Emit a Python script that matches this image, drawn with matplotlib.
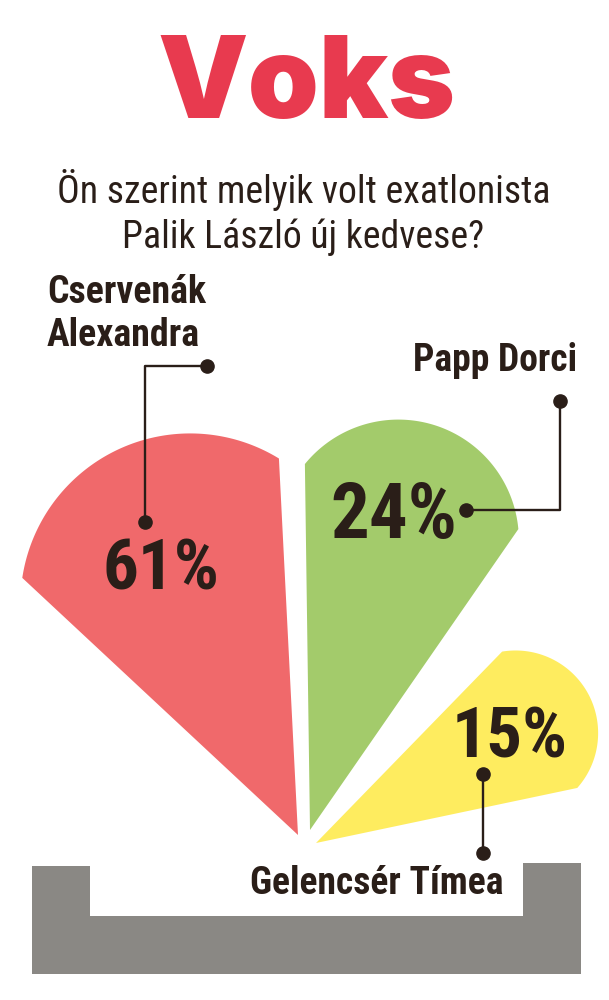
import matplotlib
matplotlib.use("Agg")
import matplotlib.pyplot as plt
from matplotlib.patches import Polygon
from matplotlib import font_manager
import numpy as np

# ---- content -------------------------------------------------------------
title = "Voks"
question_lines = ["Ön szerint melyik volt exatlonista", "Palik László új kedvese?"]
names = ["Cservenák\nAlexandra", "Papp Dorci", "Gelencsér Tímea"]
shares = [61, 24, 15]
colors = ["#F0696B", "#A3CB6B", "#FEEC5F"]

INK = "#2A1E18"
TITLE_RED = "#E83A4F"
GREY = "#8A8884"

# ---- layout (pixel units, y grows downwards) -----------------------------
# petal: apex, edge directions in degrees (counter-clockwise, y up), edge length, cap bulge
petals = [
    dict(apex=(298, 835), angles=(92.9, 137.0), reach=377, bulge=76),
    dict(apex=(310, 830), angles=(55.3, 90.8), reach=366, bulge=75),
    dict(apex=(316, 843), angles=(11.9, 45.8), reach=267, bulge=55),
]
# percentage labels: centre x, baseline y, width
pct_boxes = [(161.5, 590, 117), (393.5, 538, 127), (510, 757, 116)]
# name labels: anchor x, baseline ys, alignment, width of widest line
name_boxes = [(47, [303, 346], "left", 158), (577, [371], "right", 164), (503, [894], "right", 253)]
# leader lines: polyline through these points, dots at both ends
leaders = [
    [(207, 366), (145, 366), (145, 522)],
    [(560, 401), (560, 510), (466, 510)],
    [(483, 774), (483, 853)],
]
# grey tray under the chart
tray = [(32, 866), (90, 866), (90, 916), (523, 916), (523, 863), (581, 863), (581, 974), (32, 974)]


# ---- fonts ---------------------------------------------------------------
NARROW = {"condensed", "semi-condensed", "extra-condensed", "ultra-condensed"}


def weight_num(w):
    if isinstance(w, (int, float)):
        return w
    return font_manager.weight_dict.get(w, 400)


def choose(prefs, wmin, wmax, narrow):
    best = None
    for f in font_manager.fontManager.ttflist:
        if f.style != "normal":
            continue
        w = weight_num(f.weight)
        if not (wmin <= w <= wmax):
            continue
        is_narrow = (str(f.stretch) in NARROW or "Narrow" in f.name
                     or "Condensed" in f.name or "ondensed" in f.fname or "Narrow" in f.fname)
        if narrow and not is_narrow:
            continue
        rank = prefs.index(f.name) if f.name in prefs else len(prefs)
        key = (rank, -w)
        if best is None or key < best[0]:
            best = (key, f)
    return best[1] if best else None


def props(entry, fallback_weight):
    if entry is None:
        return font_manager.FontProperties(family="DejaVu Sans", weight=fallback_weight)
    return font_manager.FontProperties(fname=entry.fname)


narrow_prefs = ["Roboto Condensed", "Liberation Sans Narrow", "Noto Sans", "Open Sans",
                "DejaVu Sans", "Noto Sans Condensed", "Open Sans Condensed"]
bold_entry = choose(narrow_prefs, 600, 720, True)
black_entry = choose(narrow_prefs, 700, 950, True)
reg_entry = choose(narrow_prefs, 380, 420, True) or choose(narrow_prefs, 300, 500, True)
heavy_entry = choose(["Inter", "Open Sans", "Noto Sans", "Roboto", "Lato"], 800, 1000, False)

fp_bold = props(bold_entry, "bold")
fp_black = props(black_entry, "bold")
fp_reg = props(reg_entry, "normal")
fp_heavy = props(heavy_entry, "bold")

# ---- figure --------------------------------------------------------------
fig = plt.figure(figsize=(6.09, 10.0), dpi=100)
ax = fig.add_axes([0, 0, 1, 1])
ax.set_xlim(0, 609)
ax.set_ylim(1000, 0)
ax.axis("off")
renderer = fig.canvas.get_renderer()


def fitted(x, y, s, width, fp, ha, color, size=None):
    t = ax.text(x, y, s, fontproperties=fp, ha=ha, va="baseline", color=color, fontsize=20)
    if size is None:
        w = t.get_window_extent(renderer).width
        size = 20 * width / w
    t.set_fontsize(size)
    return size


def petal_vertices(apex, angles, reach, bulge, n=120):
    apex = np.asarray(apex, float)

    def edge_end(deg):
        a = np.radians(deg)
        return apex + reach * np.array([np.cos(a), -np.sin(a)])

    A, B = edge_end(angles[0]), edge_end(angles[1])
    mid = (A + B) / 2
    d = B - A
    half = np.linalg.norm(d) / 2
    nrm = np.array([-d[1], d[0]]) / np.linalg.norm(d)
    if np.dot(nrm, mid - apex) < 0:
        nrm = -nrm
    R = (half ** 2 + bulge ** 2) / (2 * bulge)
    c = mid + nrm * (bulge - R)
    ap = np.arctan2(nrm[1], nrm[0])

    def around(v):
        a = np.arctan2(v[1], v[0])
        return ap + (a - ap + np.pi) % (2 * np.pi) - np.pi

    ts = np.linspace(around(A - c), around(B - c), n)
    arc = c + R * np.column_stack([np.cos(ts), np.sin(ts)])
    return np.vstack([apex, arc])


# petals
for geo, col in zip(petals, colors):
    ax.add_patch(Polygon(petal_vertices(**geo), closed=True, facecolor=col,
                         edgecolor="none", zorder=2))

# tray
ax.add_patch(Polygon(tray, closed=True, facecolor=GREY, edgecolor="none", zorder=1))

# title and question
fitted(306, 118, title, 298, fp_heavy, "center", TITLE_RED)
qsize = fitted(304, 203, question_lines[0], 492, fp_reg, "center", INK)
fitted(303, 248, question_lines[1], None, fp_reg, "center", INK, size=qsize)

# percentages
for (cx, base, w), v in zip(pct_boxes, shares):
    fitted(cx, base, f"{v}%", w, fp_black, "center", INK)

# names
for (x, bases, ha, w), name in zip(name_boxes, names):
    lines = name.split("\n")
    widest = max(lines, key=len)
    t = ax.text(0, 0, widest, fontproperties=fp_bold, fontsize=20)
    size = 20 * w / t.get_window_extent(renderer).width
    t.remove()
    for line, b in zip(lines, bases):
        fitted(x, b, line, None, fp_bold, ha, INK, size=size)

# leaders
for pts in leaders:
    xs, ys = zip(*pts)
    ax.plot(xs, ys, color=INK, lw=1.7, zorder=4, solid_capstyle="butt")
    ax.plot([xs[0], xs[-1]], [ys[0], ys[-1]], "o", color=INK, ms=9.5, zorder=5)

fig.savefig("out.png", dpi=100)
